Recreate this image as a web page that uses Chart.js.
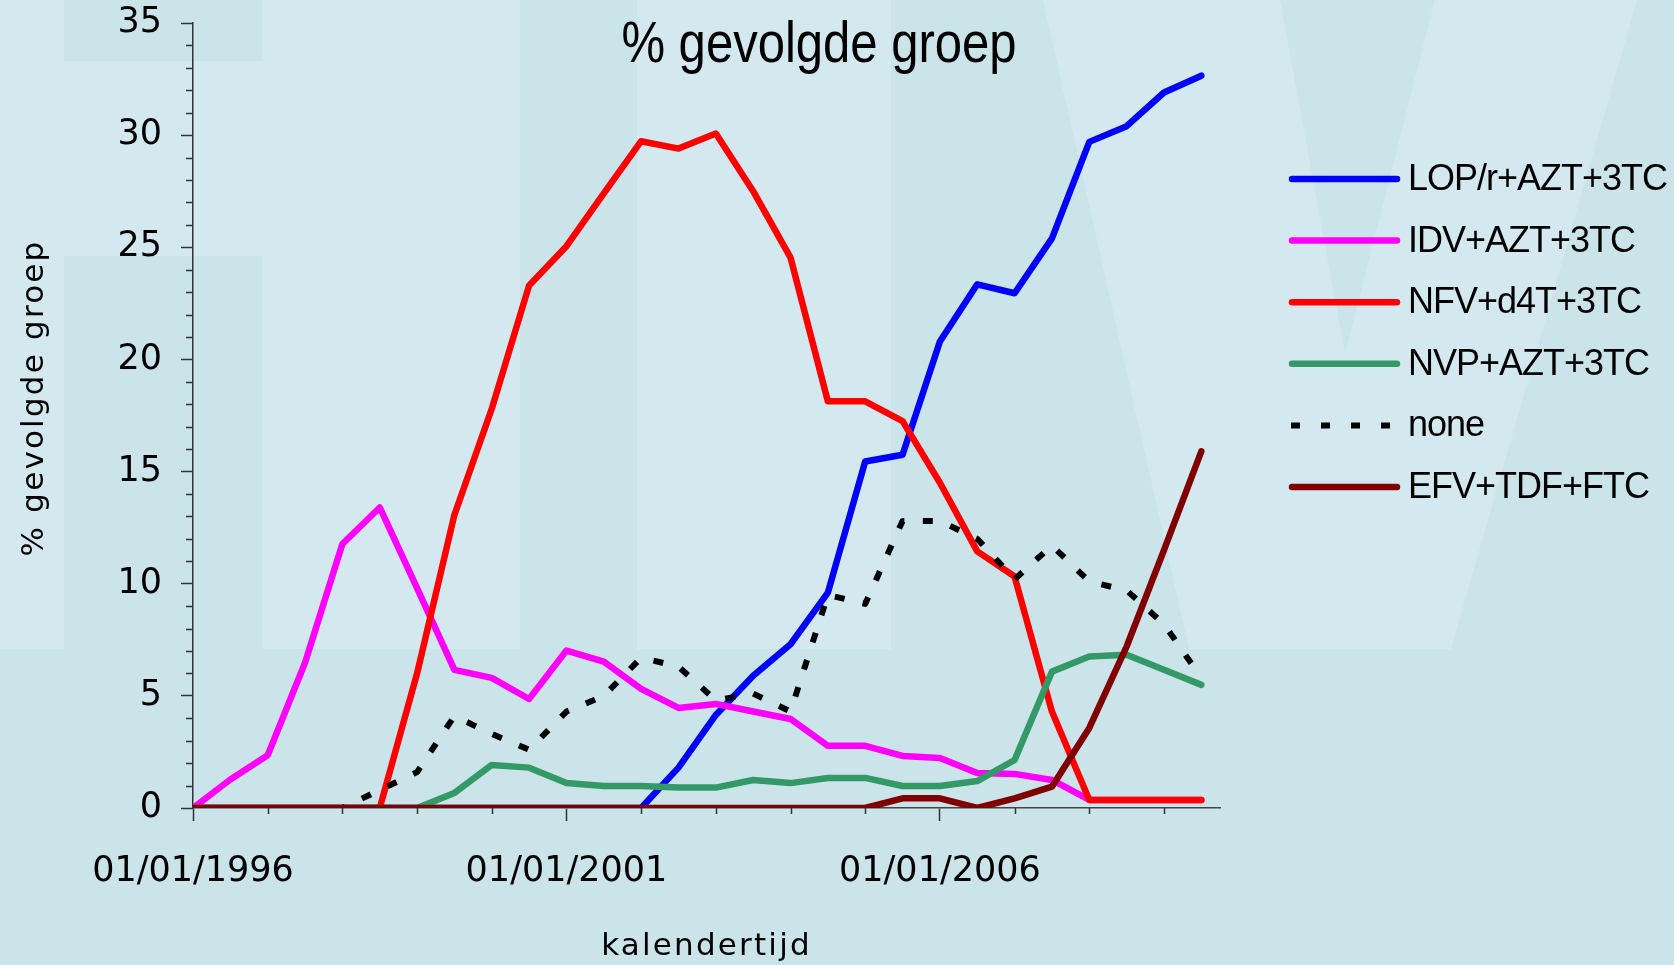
<!DOCTYPE html>
<html>
<head>
<meta charset="utf-8">
<title>% gevolgde groep</title>
<script src="https://cdn.jsdelivr.net/npm/chart.js@4.4.1/dist/chart.umd.min.js"></script>
<style>
    html, body { margin: 0; padding: 0; background: #cae4ea; }
    #wrap { width: 1674px; height: 965px; }
</style>
</head>
<body>
<div id="wrap"><canvas id="regimeChart" width="1674" height="965"></canvas></div>
<script>
"use strict";

// half-yearly moments (calendar year)
const periods = [1996, 1996.5, 1997, 1997.5, 1998, 1998.5, 1999, 1999.5, 2000, 2000.5,
                 2001, 2001.5, 2002, 2002.5, 2003, 2003.5, 2004, 2004.5, 2005, 2005.5,
                 2006, 2006.5, 2007, 2007.5, 2008, 2008.5, 2009, 2009.5];

const regimeNames = ['LOP/r+AZT+3TC', 'IDV+AZT+3TC', 'NFV+d4T+3TC', 'NVP+AZT+3TC', 'none', 'EFV+TDF+FTC'];

// % of followed group per regime
const lopAzt3tc = [0, 0, 0, 0, 0, 0, 0, 0, 0, 0, 0, 0, 0, 1.8, 4.15, 5.9, 7.3, 9.6, 15.45, 15.75,
                   20.8, 23.35, 22.95, 25.4, 29.7, 30.4, 31.9, 32.65];
const idvAzt3tc = [0, 1.27, 2.35, 6.48, 11.77, 13.4, 9.8, 6.16, 5.8, 4.86, 7.02, 6.53, 5.31, 4.46,
                   4.64, 4.3, 3.97, 2.77, 2.77, 2.32, 2.23, 1.56, 1.52, 1.25, 0.36, 0.36, 0.36, 0.36];
const nfvD4t3tc = [0, 0, 0, 0, 0, 0, 6.0, 13.07, 17.8, 23.3, 25.05, 27.4, 29.73, 29.4, 30.07, 27.5,
                   24.54, 18.13, 18.13, 17.25, 14.5, 11.44, 10.32, 4.3, 0.36, 0.36, 0.36, 0.36];
const nvpAzt3tc = [0, 0, 0, 0, 0, 0, 0, 0.67, 1.92, 1.8, 1.11, 0.98, 0.98, 0.91, 0.91, 1.25, 1.11,
                   1.34, 1.34, 0.98, 0.98, 1.2, 2.14, 6.08, 6.75, 6.83, 6.16, 5.49];
const noneRegime = [0, 0, 0, 0, 0, 0.8, 1.6, 4.1, 3.3, 2.6, 4.3, 5.0, 6.7, 6.3, 4.8, 5.1, 4.3, 9.5,
                    9.1, 12.8, 12.8, 12.0, 10.2, 11.7, 10.1, 9.7, 8.2, 5.8];
const efvTdfFtc = [0, 0, 0, 0, 0, 0, 0, 0, 0, 0, 0, 0, 0, 0, 0, 0, 0, 0, 0, 0.43, 0.43, 0, 0.43,
                   0.95, 3.57, 7.2, 11.5, 15.9];

const regimeColors = ['#0000ff', '#ff00ff', '#ff0000', '#339966', '#000000', '#800000'];

// axis ticks
const yTickValues = [0, 5, 10, 15, 20, 25, 30, 35];
const xTickValues = [1996, 2001, 2006];
const xMinorValues = [1997, 1998, 1999, 2000, 2002, 2003, 2004, 2005, 2007, 2008, 2009];

function toPoints(values) {
    return periods.map((p, i) => ({ x: p, y: values[i] }));
}

const allSeries = [lopAzt3tc, idvAzt3tc, nfvD4t3tc, nvpAzt3tc, noneRegime, efvTdfFtc];

const datasets = allSeries.map((values, i) => {
    const dashed = regimeNames[i] === 'none';
    return {
        label: regimeNames[i],
        data: toPoints(values),
        borderColor: regimeColors[i],
        backgroundColor: regimeColors[i],
        borderWidth: dashed ? 6 : 6.5,
        borderDash: dashed ? [10, 18.5] : [],
        borderCapStyle: dashed ? 'butt' : 'round',
        borderJoinStyle: 'round',
        pointRadius: 0,
        tension: 0,
        order: allSeries.length - i   // later series on top, like the original
    };
});

// light / dark watermark behind everything
const backgroundPlugin = {
    id: 'hivBackground',
    beforeDraw(chart) {
        const ctx = chart.ctx;
        ctx.save();
        ctx.fillStyle = '#cae4ea';
        ctx.fillRect(0, 0, chart.width, chart.height);
        ctx.fillStyle = '#d4e9ef';
        ctx.fillRect(0, 0, 64, 649);
        ctx.fillRect(64, 61, 198, 195);
        ctx.fillRect(262, 0, 258, 649);
        ctx.fillRect(637, 0, 254, 649);
        ctx.beginPath();
        ctx.moveTo(1043, 0);
        ctx.lineTo(1280, 0);
        ctx.lineTo(1345, 354);
        ctx.lineTo(1435, 0);
        ctx.lineTo(1637, 0);
        ctx.lineTo(1451, 649);
        ctx.lineTo(1189, 649);
        ctx.closePath();
        ctx.fill();
        ctx.restore();
    }
};

// minor ticks, titles and the legend
const decorPlugin = {
    id: 'decor',
    afterDraw(chart) {
        const ctx = chart.ctx;
        const xs = chart.scales.x;
        const ys = chart.scales.y;
        ctx.save();

        ctx.strokeStyle = '#333';
        ctx.lineWidth = 1.5;
        ctx.beginPath();
        for (let v = 0; v <= 35; v++) {
            if (v % 5 === 0) continue;
            const py = Math.round(ys.getPixelForValue(v)) + 0.5;
            ctx.moveTo(ys.right - 7, py);
            ctx.lineTo(ys.right, py);
        }
        xMinorValues.forEach(v => {
            const px = Math.round(xs.getPixelForValue(v)) + 0.5;
            ctx.moveTo(px, xs.top);
            ctx.lineTo(px, xs.top + 6);
        });
        ctx.stroke();

        ctx.fillStyle = '#000';
        ctx.textBaseline = 'alphabetic';

        // chart title, condensed face
        ctx.save();
        ctx.translate(819, 62);
        ctx.scale(0.86, 1);
        ctx.textAlign = 'center';
        ctx.font = '57px "Liberation Sans", sans-serif';
        ctx.fillText('% gevolgde groep', 0, 0);
        ctx.restore();

        ctx.textAlign = 'center';
        ctx.font = '31px "DejaVu Sans", sans-serif';
        ctx.letterSpacing = '2.2px';
        ctx.fillText('kalendertijd', (xs.left + xs.right) / 2, 955);
        ctx.save();
        ctx.translate(43, 398);
        ctx.rotate(-Math.PI / 2);
        ctx.fillText('% gevolgde groep', 0, 0);
        ctx.restore();

        // legend
        ctx.letterSpacing = '-1px';
        ctx.font = '36px "Liberation Sans", sans-serif';
        ctx.textAlign = 'left';
        ctx.textBaseline = 'middle';
        chart.data.datasets.forEach((ds, i) => {
            const y = 179 + i * 61.6;
            ctx.save();
            ctx.strokeStyle = ds.borderColor;
            ctx.lineWidth = 6.5;
            ctx.beginPath();
            if (ds.borderDash.length) {
                ctx.lineWidth = 6;
                ctx.lineCap = 'butt';
                ctx.setLineDash([9, 21]);
                ctx.moveTo(1291, y);
                ctx.lineTo(1392, y);
            } else {
                ctx.lineCap = 'round';
                ctx.moveTo(1292, y);
                ctx.lineTo(1397, y);
            }
            ctx.stroke();
            ctx.restore();
            ctx.fillText(ds.label, 1408, y + 1);
        });
        ctx.restore();
    }
};

const ctx = document.getElementById('regimeChart').getContext('2d');
new Chart(ctx, {
    type: 'line',
    data: { datasets: datasets },
    options: {
        responsive: false,
        animation: false,
        events: [],
        layout: { padding: { left: 0, top: 23, right: 454, bottom: 0 } },
        plugins: {
            legend: { display: false },
            title: { display: false },
            tooltip: { enabled: false }
        },
        scales: {
            x: {
                type: 'linear',
                min: 1996,
                max: 2009.75,
                afterBuildTicks: axis => { axis.ticks = xTickValues.map(v => ({ value: v })); },
                afterFit: axis => { axis.height = 157; axis.paddingLeft = 0; axis.paddingRight = 0; },
                grid: { drawOnChartArea: false, tickLength: 13, tickColor: '#333', tickWidth: 1.5 },
                border: { color: '#444', width: 1.5 },
                ticks: {
                    autoSkip: false,
                    maxRotation: 0,
                    padding: 30,
                    color: '#000',
                    font: { family: '"DejaVu Sans", sans-serif', size: 35 },
                    callback: v => '01/01/' + v
                }
            },
            y: {
                min: 0,
                max: 35,
                afterBuildTicks: axis => { axis.ticks = yTickValues.map(v => ({ value: v })); },
                afterFit: axis => { axis.width = 193; axis.paddingTop = 0; axis.paddingBottom = 0; },
                grid: { drawOnChartArea: false, tickLength: 12, tickColor: '#333', tickWidth: 1.5 },
                border: { color: '#333', width: 1.5 },
                ticks: {
                    autoSkip: false,
                    padding: 19,
                    color: '#000',
                    font: { family: '"DejaVu Sans", sans-serif', size: 35 }
                }
            }
        }
    },
    plugins: [backgroundPlugin, decorPlugin]
});
</script>
</body>
</html>
